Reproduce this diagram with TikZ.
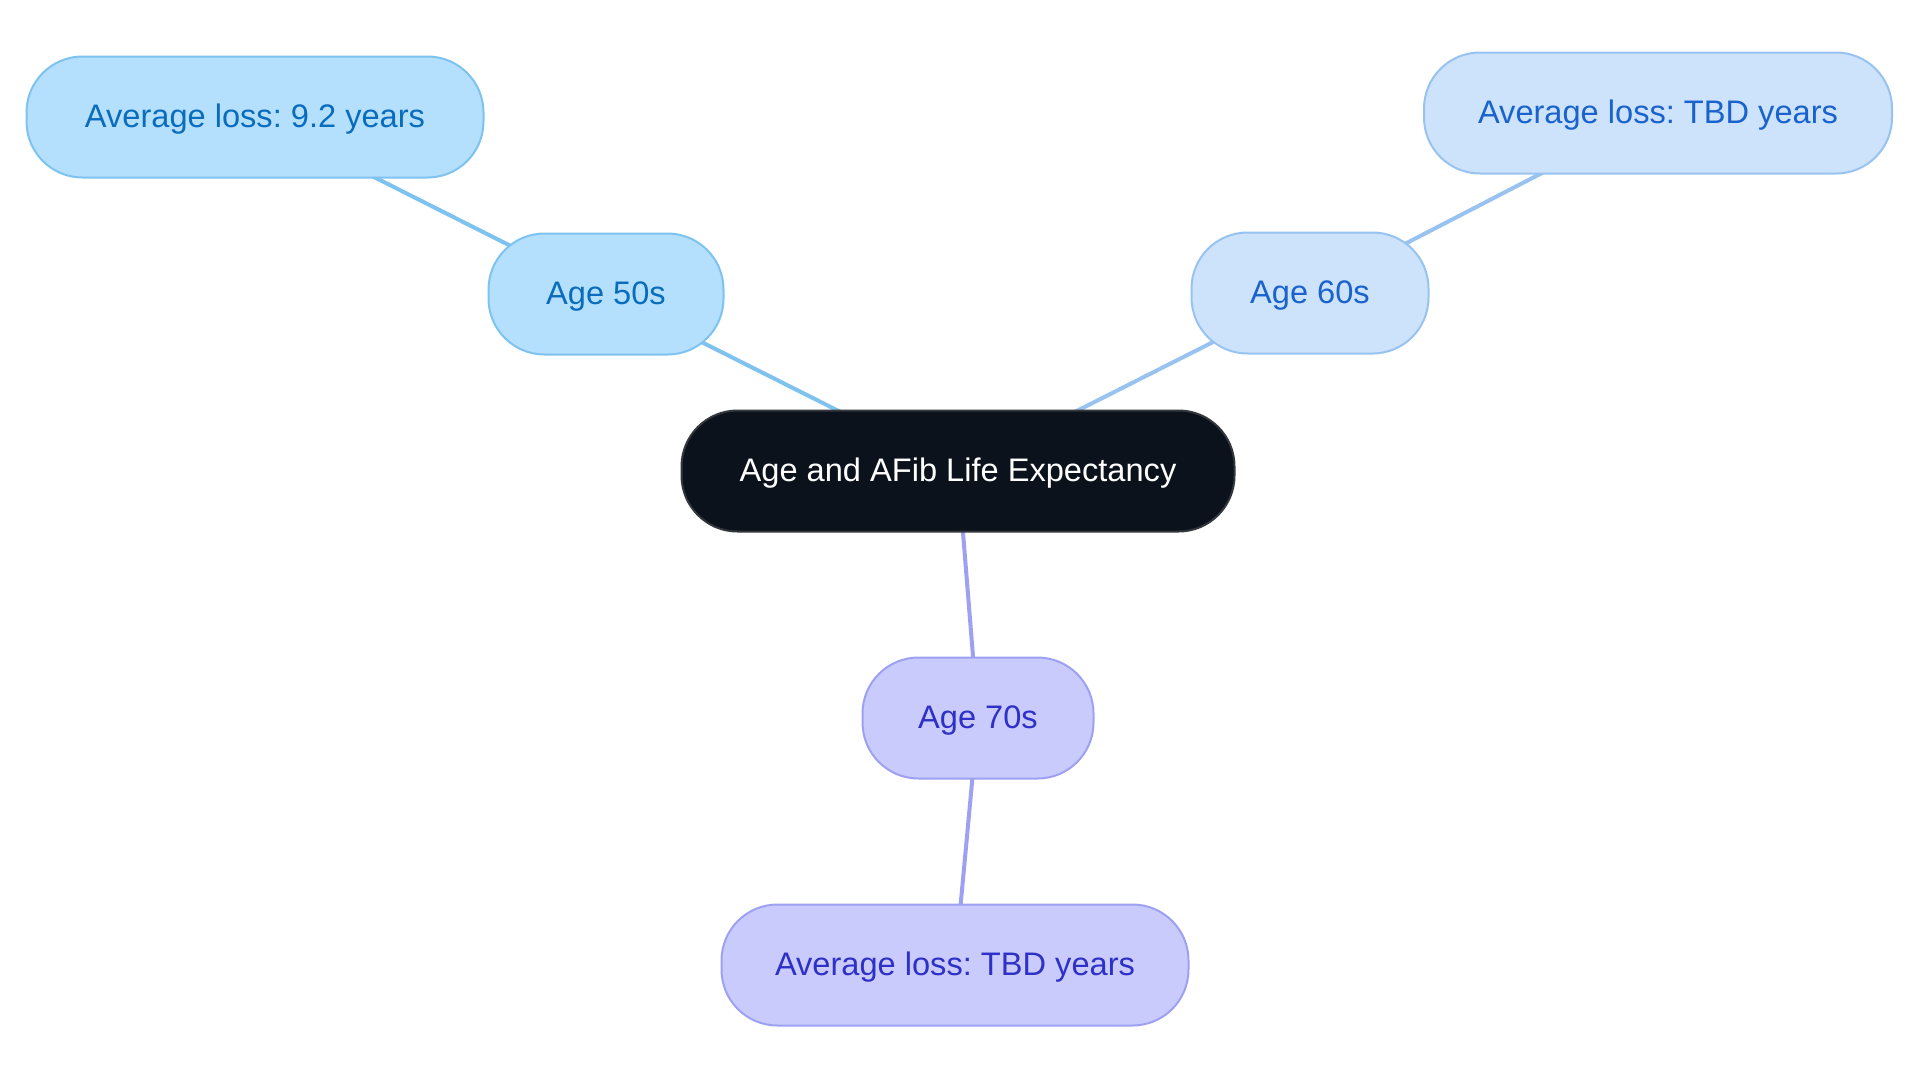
\documentclass[tikz,border=0pt]{standalone}
\usepackage{fontspec}
\setmainfont{Liberation Sans}
\usetikzlibrary{backgrounds}
\frenchspacing
\definecolor{lbfill}{HTML}{B4E0FE}
\definecolor{lbdraw}{HTML}{7EC3F0}
\definecolor{lbtext}{HTML}{0A6CBC}
\definecolor{rbfill}{HTML}{CDE3FB}
\definecolor{rbdraw}{HTML}{98C3F0}
\definecolor{rbtext}{HTML}{1A62CC}
\definecolor{pbfill}{HTML}{C9CBFD}
\definecolor{pbdraw}{HTML}{9EA1F1}
\definecolor{pbtext}{HTML}{2E30C6}
\definecolor{rootfill}{HTML}{0B121C}
\definecolor{rootdraw}{HTML}{33363B}
\begin{document}
\begin{tikzpicture}[x=0.5pt,y=-0.5pt,
  pill/.style={draw, line width=1pt, rounded corners=28pt, minimum height=60.5pt,
    inner sep=0pt, text depth=1pt, font=\fontsize{16.3}{19}\selectfont\frenchspacing},
  leftbox/.style={pill, fill=lbfill, draw=lbdraw, text=lbtext},
  rightbox/.style={pill, fill=rbfill, draw=rbdraw, text=rbtext},
  lowbox/.style={pill, fill=pbfill, draw=pbdraw, text=pbtext},
  rootbox/.style={pill, fill=rootfill, draw=rootdraw, text=white},
  link/.style={line width=2pt}]
\useasboundingbox (0,0) rectangle (1920,1083);
\node[rootbox, minimum width=276.5pt] (root) at (958,471) {Age and AFib Life Expectancy};
\node[leftbox, minimum width=117.5pt] (a50) at (606,294) {Age 50s};
\node[leftbox, minimum width=228.5pt] (l50) at (255,117) {Average loss: 9.2 years};
\node[rightbox, minimum width=118.5pt] (a60) at (1310,293) {Age 60s};
\node[rightbox, minimum width=234pt] (l60) at (1658,113) {Average loss: TBD years};
\node[lowbox, minimum width=115.5pt] (a70) at (978,718) {Age 70s};
\node[lowbox, minimum width=233.5pt] (l70) at (955,965) {Average loss: TBD years};
\begin{scope}[on background layer]
\draw[link, lbdraw] (root.center) -- (a50.center);
\draw[link, lbdraw] (a50.center) -- (l50.center);
\draw[link, rbdraw] (root.center) -- (a60.center);
\draw[link, rbdraw] (a60.center) -- (l60.center);
\draw[link, pbdraw] (root.center) -- (a70.center);
\draw[link, pbdraw] (a70.center) -- (l70.center);
\end{scope}
\end{tikzpicture}
\end{document}
